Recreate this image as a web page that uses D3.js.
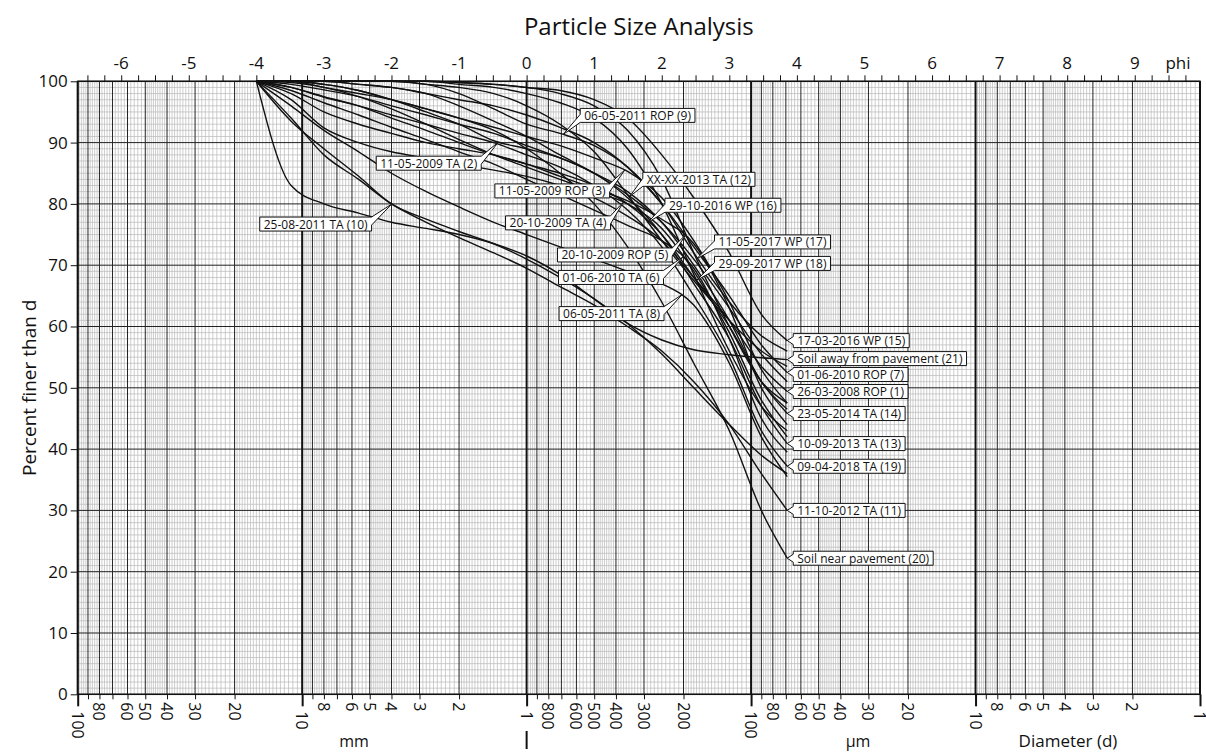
<!DOCTYPE html>
<html>
<head>
<meta charset="utf-8">
<script src="https://cdn.jsdelivr.net/npm/d3@7"></script>
<style>
  body { margin: 0; background: #fff; }
  text { font-family: "Open Sans", "Noto Sans", sans-serif; fill: #111; }
</style>
</head>
<body>
<div id="chart"></div>
<script>
// sieve diameters in mm (half phi steps, phi -4 .. 3.85)
var sizes = [16, 11.2, 8, 5.6, 4, 2.8, 2, 1.4, 1, 0.71, 0.5, 0.355, 0.25, 0.18, 0.125, 0.09, 0.069];

// percent finer at each sieve size
var s1  = [100, 97, 92.4, 90, 88.5, 87.5, 86.5, 85.5, 84.5, 83, 81, 78, 74, 68, 61, 53.5, 49.4];
var s2  = [100, 100, 99.5, 98.5, 97, 95, 93, 90.3, 89, 87.5, 85, 82, 77, 70, 61, 51, 46.5];
var s3  = [100, 100, 99.5, 98.5, 97, 95.5, 94, 92.5, 91, 89.5, 87.5, 85.3, 81, 74, 64, 53, 47.5];
var s4  = [100, 99.8, 99, 97.5, 95.5, 93, 90.5, 88, 86, 84, 82, 80, 76, 69, 59, 48, 42];
var s5  = [100, 99, 97.5, 96, 94, 92, 90, 88, 86.5, 84.5, 82.5, 80.5, 77.5, 73.5, 63, 50, 44];
var s6  = [100, 98.5, 96.5, 94.5, 92.5, 90.5, 88.5, 86.5, 84, 81.5, 79, 76.5, 74, 69.5, 58, 45, 39.5];
var s7  = [100, 100, 100, 99.5, 99, 98, 97, 96, 94.5, 92.5, 90, 86, 80, 73, 65, 57, 52.5];
var s8  = [100, 96, 92, 88.5, 85, 82, 79.5, 77, 75, 73, 71, 69, 67, 63.5, 54, 42, 35.5];
var s9  = [100, 100, 100, 100, 100, 99.5, 98, 95.5, 93, 91.5, 89.5, 86, 80, 72, 64, 58.5, 56];
var s10 = [100, 93.5, 89, 84.5, 80, 77.5, 75.5, 73.5, 71, 68, 64.5, 60.5, 55.5, 50, 44, 39, 36];
var s11 = [100, 94, 88, 84, 80, 77, 74.5, 72, 69.5, 66.5, 63.5, 60, 56, 51, 44, 36, 30];
var s12 = [100, 100, 100, 99.5, 99, 98, 96, 93.5, 91, 88, 85, 81.5, 77, 71, 63, 55.5, 51];
var s13 = [100, 99.5, 98.6, 97.5, 96, 94.5, 93, 91.5, 89.5, 87.5, 85, 81, 75, 67, 58, 47, 40.9];
var s14 = [100, 98, 95, 93, 91.5, 90, 89, 88, 86.5, 85, 83, 80, 75, 68, 60, 51, 45.8];
var s15 = [100, 100, 100, 100, 100, 100, 99.8, 99.5, 99, 98.5, 97, 94, 88, 81, 72, 62, 57.7];
var s16 = [100, 100, 100, 100, 100, 99.5, 99, 98, 96, 93, 88.5, 81.5, 74, 67.5, 61, 56, 53.5];
var s17 = [100, 100, 100, 100, 100, 100, 99.8, 99.5, 99, 98, 96, 92, 84, 72, 60, 51, 47.5];
var s18 = [100, 100, 100, 100, 100, 100, 99.5, 99, 98, 96.5, 94, 89, 80, 68.5, 56, 47, 43];
var s19 = [100, 99, 97.4, 96, 94.5, 93, 91.5, 90, 88, 86, 83, 79, 73, 65, 55, 43, 37.2];
var s20 = [100, 100, 99, 98, 97, 95.5, 94, 92, 89, 85, 80, 73, 64, 54, 43, 30, 22.2];
var s21 = [100, 83, 80, 78.5, 77, 76, 75, 73.5, 71.5, 68.5, 64.5, 60.5, 57.8, 56.2, 55.4, 54.9, 54.6];

var names = ["26-03-2008 ROP (1)", "11-05-2009 TA (2)", "11-05-2009 ROP (3)", "20-10-2009 TA (4)",
  "20-10-2009 ROP (5)", "01-06-2010 TA (6)", "01-06-2010 ROP (7)", "06-05-2011 TA (8)",
  "06-05-2011 ROP (9)", "25-08-2011 TA (10)", "11-10-2012 TA (11)", "XX-XX-2013 TA (12)",
  "10-09-2013 TA (13)", "23-05-2014 TA (14)", "17-03-2016 WP (15)", "29-10-2016 WP (16)",
  "11-05-2017 WP (17)", "29-09-2017 WP (18)", "09-04-2018 TA (19)", "Soil near pavement (20)",
  "Soil away from pavement (21)"];
var series = [s1, s2, s3, s4, s5, s6, s7, s8, s9, s10, s11, s12, s13, s14, s15, s16, s17, s18, s19, s20, s21];

var phiTicks = [-6, -5, -4, -3, -2, -1, 0, 1, 2, 3, 4, 5, 6, 7, 8, 9];
var percentTicks = [0, 10, 20, 30, 40, 50, 60, 70, 80, 90, 100];

// callouts: sample index, diameter the pointer lands on, box offset (px) from the tip
var callouts = [
  {i: 8,  d: 0.687, dx: 17,   dy: -19},
  {i: 1,  d: 1.338, dx: -122, dy: 21},
  {i: 9,  d: 3.99,  dx: -132, dy: 20},
  {i: 2,  d: 0.365, dx: -130, dy: 21},
  {i: 11, d: 0.347, dx: 13,   dy: -17},
  {i: 3,  d: 0.37,  dx: -118, dy: 21},
  {i: 15, d: 0.288, dx: 17,   dy: -17},
  {i: 4,  d: 0.196, dx: -128, dy: 20},
  {i: 5,  d: 0.2,   dx: -125, dy: 21},
  {i: 7,  d: 0.203, dx: -123, dy: 19},
  {i: 16, d: 0.175, dx: 18,   dy: -17},
  {i: 17, d: 0.175, dx: 18,   dy: -17},
  {i: 14, d: 0.069, dx: 6,    dy: 0},
  {i: 20, d: 0.069, dx: 6,    dy: -1},
  {i: 6,  d: 0.069, dx: 6,    dy: 2},
  {i: 0,  d: 0.069, dx: 6,    dy: 0},
  {i: 13, d: 0.069, dx: 6,    dy: 0},
  {i: 12, d: 0.069, dx: 6,    dy: 0},
  {i: 18, d: 0.069, dx: 6,    dy: 0},
  {i: 10, d: 0.069, dx: 6,    dy: 0},
  {i: 19, d: 0.069, dx: 6,    dy: 0}
];

function main() {
var W = 1206, H = 752;
var pL = 77.7, pR = 1200, pT = 81.3, pB = 694.3;

var svg = d3.select("#chart").append("svg")
  .attr("width", W).attr("height", H);

var x = d3.scaleLog().domain([100, 0.001]).range([pL, pR]);
var y = d3.scaleLinear().domain([0, 100]).range([pB, pT]);
var phi = d3.scaleLinear().domain([-Math.log2(100), -Math.log2(0.001)]).range([pL, pR]);

// vertical grid: light subdivisions, then integer multiples
var minor = [], major = [], decades = [];
for (var k = -3; k <= 1; k++) {
  var base = Math.pow(10, k);
  for (var m = 100; m < 1000; m += (m < 200 ? 5 : (m < 500 ? 10 : 20))) {
    if (m % 100 === 0) continue;
    minor.push(base * m / 100);
  }
  for (var j = 2; j <= 9; j++) major.push(base * j);
}
for (var k2 = -3; k2 <= 2; k2++) decades.push(Math.pow(10, k2));

var grid = svg.append("g");
grid.selectAll(".vmin").data(minor).enter().append("line")
  .attr("x1", d => x(d)).attr("x2", d => x(d))
  .attr("y1", pT).attr("y2", pB)
  .attr("stroke", "#b8b8b8").attr("stroke-width", 0.7);

var hminor = d3.range(0, 101, 1).filter(v => v % 10 !== 0);
grid.selectAll(".hmin").data(hminor).enter().append("line")
  .attr("x1", pL).attr("x2", pR)
  .attr("y1", d => y(d)).attr("y2", d => y(d))
  .attr("stroke", "#b8b8b8").attr("stroke-width", 0.7);

grid.selectAll(".vmaj").data(major).enter().append("line")
  .attr("x1", d => x(d)).attr("x2", d => x(d))
  .attr("y1", pT).attr("y2", pB)
  .attr("stroke", "#222").attr("stroke-width", 1);

grid.selectAll(".hmaj").data(percentTicks).enter().append("line")
  .attr("x1", pL).attr("x2", pR)
  .attr("y1", d => y(d)).attr("y2", d => y(d))
  .attr("stroke", "#222").attr("stroke-width", 1);

grid.selectAll(".vdec").data(decades).enter().append("line")
  .attr("x1", d => x(d)).attr("x2", d => x(d))
  .attr("y1", pT).attr("y2", pB)
  .attr("stroke", "#111").attr("stroke-width", 2);

// frame
svg.append("rect").attr("x", pL).attr("y", pT)
  .attr("width", pR - pL).attr("height", pB - pT)
  .attr("fill", "none").attr("stroke", "#111").attr("stroke-width", 1.5);

// curves
var line = d3.line()
  .x(d => x(d[0]))
  .y(d => y(d[1]))
  .curve(d3.curveMonotoneX);

var paths = svg.append("g").selectAll("path").data(series).enter().append("path")
  .attr("d", s => line(s.map((v, i) => [sizes[i], v])))
  .attr("fill", "none").attr("stroke", "#111").attr("stroke-width", 1.4)
  .attr("stroke-linejoin", "round");
var pathNodes = paths.nodes();

// y of a drawn curve at screen x (binary search along the path)
function yOnPath(node, px) {
  var lo = 0, hi = node.getTotalLength();
  for (var n = 0; n < 40; n++) {
    var mid = (lo + hi) / 2;
    if (node.getPointAtLength(mid).x < px) lo = mid; else hi = mid;
  }
  return node.getPointAtLength((lo + hi) / 2).y;
}

// callout labels
var cg = svg.append("g");
callouts.forEach(function (c) {
  var tx = x(c.d), ty = yOnPath(pathNodes[c.i], tx);
  var g = cg.append("g");
  var t = g.append("text").text(names[c.i])
    .attr("font-size", 12).attr("dominant-baseline", "central");
  var tw = t.node().getComputedTextLength();
  var bw = tw + 8, bh = 14;
  var bx = tx + c.dx;
  var by = ty + c.dy - bh / 2;
  var cy = by + bh / 2;
  var pts;
  if (tx < bx) {
    var yy = Math.max(by + 4, Math.min(by + bh - 4, ty));
    pts = [[bx, by], [bx + bw, by], [bx + bw, by + bh], [bx, by + bh], [bx, yy + 4], [tx, ty], [bx, yy - 4]];
  } else if (tx > bx + bw) {
    var yy2 = Math.max(by + 4, Math.min(by + bh - 4, ty));
    pts = [[bx, by], [bx + bw, by], [bx + bw, yy2 - 4], [tx, ty], [bx + bw, yy2 + 4], [bx + bw, by + bh], [bx, by + bh]];
  } else if (ty < by) {
    var xx = Math.max(bx + 4, Math.min(bx + bw - 4, tx));
    pts = [[bx, by], [xx - 4, by], [tx, ty], [xx + 4, by], [bx + bw, by], [bx + bw, by + bh], [bx, by + bh]];
  } else {
    var xx2 = Math.max(bx + 4, Math.min(bx + bw - 4, tx));
    pts = [[bx, by], [bx + bw, by], [bx + bw, by + bh], [xx2 + 4, by + bh], [tx, ty], [xx2 - 4, by + bh], [bx, by + bh]];
  }
  g.insert("path", "text").attr("d", "M" + pts.join("L") + "Z")
    .attr("fill", "#fff").attr("stroke", "#111").attr("stroke-width", 1);
  t.attr("x", bx + 4).attr("y", cy);
});

// left axis
var yAxis = svg.append("g").attr("transform", "translate(" + pL + ",0)")
  .call(d3.axisLeft(y).tickValues(percentTicks).tickSize(7).tickPadding(3));
yAxis.select(".domain").remove();
yAxis.selectAll("text").attr("font-size", 17).style("font-family", "Open Sans");
yAxis.selectAll("line").attr("stroke", "#111");

// top phi axis
var phiMinor = d3.range(-26, 40).map(v => v / 4);
var topAxis = svg.append("g").attr("transform", "translate(0," + pT + ")")
  .call(d3.axisTop(phi).tickValues(phiMinor).tickSize(6).tickFormat(""));
topAxis.select(".domain").remove();
topAxis.selectAll("line").attr("stroke", "#111");
svg.append("g").selectAll("text").data(phiTicks).enter().append("text")
  .attr("x", d => phi(d)).attr("y", 69)
  .attr("text-anchor", "middle").attr("font-size", 17)
  .text(d => d < 0 ? "-" + Math.abs(d) : d);
svg.append("text").attr("x", 1178).attr("y", 69).attr("text-anchor", "middle")
  .attr("font-size", 17).text("phi");

// bottom diameter axis
var dTicks = [];
for (var k3 = -3; k3 <= 1; k3++) for (var j3 = 1; j3 <= 9; j3++) dTicks.push(Math.pow(10, k3) * j3);
dTicks.push(100);
function isDecade(d) { return Math.abs(Math.log10(d) - Math.round(Math.log10(d))) < 1e-9; }
function lead(d) { return Math.round(d / Math.pow(10, Math.floor(Math.log10(d) + 1e-9))); }
var bottomAxis = svg.append("g").attr("transform", "translate(0," + pB + ")")
  .call(d3.axisBottom(x).tickValues(dTicks).tickSize(5).tickFormat(""));
bottomAxis.select(".domain").remove();
bottomAxis.selectAll("line").attr("stroke", "#111")
  .attr("y2", d => isDecade(d) ? 12 : 5)
  .attr("stroke-width", d => isDecade(d) ? 2 : 1);

var labelled = dTicks.filter(d => lead(d) !== 9 && lead(d) !== 7);
svg.append("g").selectAll("text").data(labelled).enter().append("text")
  .attr("transform", d => "translate(" + x(d) + "," + (pB + (isDecade(d) ? 17 : 8)) + ") rotate(90)")
  .attr("dominant-baseline", "central").attr("font-size", 16)
  .text(d => d >= 1 ? d3.format("~g")(d) : d3.format("~g")(Math.round(d * 1000)));

// mm / um separator under "1"
svg.append("line").attr("x1", x(1)).attr("x2", x(1)).attr("y1", 731).attr("y2", 749)
  .attr("stroke", "#111").attr("stroke-width", 2);

svg.append("text").attr("x", 354).attr("y", 747).attr("text-anchor", "middle")
  .attr("font-size", 16).text("mm");
svg.append("text").attr("x", 858).attr("y", 747).attr("text-anchor", "middle")
  .attr("font-size", 16).text("\u00b5m");
svg.append("text").attr("x", 1068).attr("y", 747).attr("text-anchor", "middle")
  .attr("font-size", 17).text("Diameter (d)");

// titles
svg.append("text").attr("x", (pL + pR) / 2).attr("y", 35).attr("text-anchor", "middle")
  .attr("font-size", 24).text("Particle Size Analysis");
svg.append("text").attr("transform", "translate(36," + ((pT + pB) / 2) + ") rotate(-90)")
  .attr("text-anchor", "middle").attr("font-size", 19).text("Percent finer than d");
}
main();
</script>
</body>
</html>
